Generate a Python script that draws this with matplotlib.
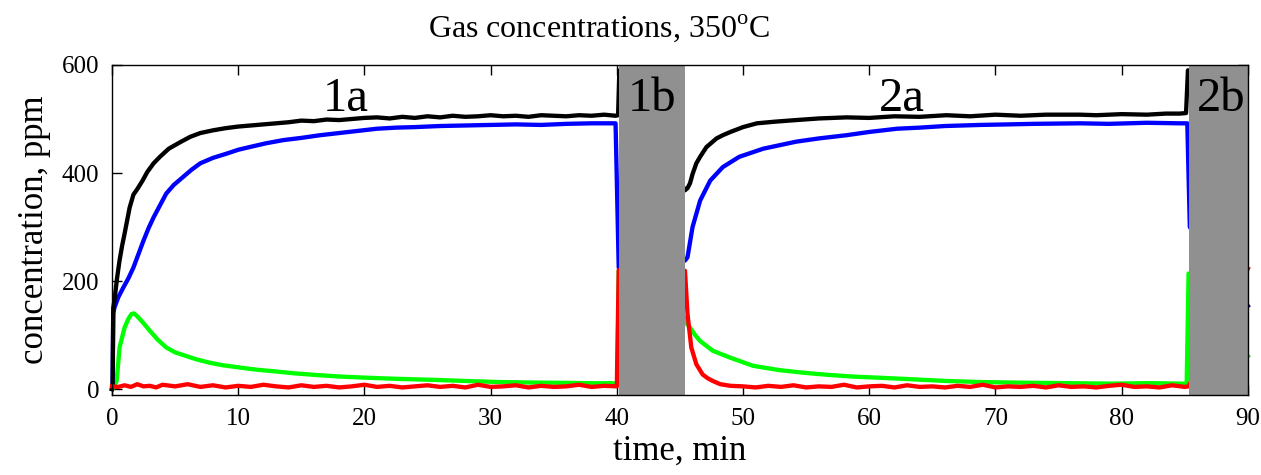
import matplotlib
matplotlib.use("Agg")
import matplotlib.pyplot as plt
import numpy as np

plt.rcParams['font.family'] = ['Liberation Serif', 'DejaVu Serif']
plt.rcParams['mathtext.fontset'] = 'custom'
plt.rcParams['mathtext.rm'] = 'Liberation Serif'

# gas concentrations (ppm) vs time (min)
t_black = [0, 0.05, 0.1, 0.2, 0.4, 0.6, 0.8, 1.0, 1.2, 1.4, 1.7, 2.0, 2.4, 2.8, 3.3, 3.8,
           4.5, 5.4, 6.2, 7.0, 8.0, 9.0, 10, 11, 12, 13, 14, 15, 16, 17, 18, 19, 20, 21,
           22, 23, 24, 25, 26, 27, 28, 29, 30, 31, 32, 33, 34, 35, 36, 37, 38, 39, 39.9,
           40.1, 40.2,
           45.4, 45.6, 45.8, 46.0, 46.3, 46.6, 47.1, 47.6, 47.9, 48.4, 49.0, 50.0, 51.1,
           52.5, 54.2, 56, 58.2, 60, 62, 64, 66.1, 68, 70, 72, 74, 76.7, 78, 80, 82, 83.5,
           84.6, 85.1, 85.25, 85.5]
c_black = [0, 5, 150, 165, 205, 238, 265, 288, 312, 336, 360, 370, 385, 402, 418, 430,
           445, 457, 467, 474, 479, 483, 486, 488, 490, 492, 494, 497, 496, 499, 498, 500,
           502, 503, 501, 504, 502, 505, 503, 506, 504, 505, 507, 505, 506, 504, 507, 506,
           505, 507, 506, 508, 506, 507, 590,
           368, 372, 381, 398, 418, 430, 448, 458, 464, 470, 476, 485, 492,
           495, 498, 501, 503, 502, 505, 504, 507, 505, 508, 506, 508, 508, 507, 509, 508, 510,
           510, 511, 590, 590]

t_blue = [0, 0.05, 0.1, 0.2, 0.5, 0.9, 1.3, 1.7, 2.1, 2.5, 2.9, 3.3, 3.8, 4.3, 4.9, 5.6,
          6.3, 7.0, 8.0, 9.1, 10, 10.9, 12.2, 13.6, 15, 16.5, 18, 19.5, 21, 22.5, 24, 26,
          28, 30, 32, 34, 36, 38, 39.9, 40.15,
          45.4, 45.6, 46.0, 46.6, 47.4, 48.4, 49.7, 51.6, 54.2, 56, 58.2, 60, 62.2, 64,
          66, 68.8, 71, 73, 76.7, 79, 82, 84.6, 85.2, 85.4, 90]
c_blue = [0, 5, 140, 151, 170, 188, 205, 225, 250, 275, 298, 318, 340, 362, 378, 392,
          406, 418, 428, 436, 443, 448, 455, 461, 465, 470, 474, 478, 482, 484, 485, 487,
          488, 489, 490, 489, 491, 492, 492, 225,
          238, 244, 300, 349, 386, 411, 430, 445, 458, 464, 470, 476, 482, 484,
          487, 489, 490, 491, 492, 491, 493, 492, 492, 300, 154]

t_green = [0, 0.1, 0.37, 0.6, 1.0, 1.3, 1.55, 1.75, 1.95, 2.5, 3.0, 3.6, 4.3, 5.0, 5.9,
           6.7, 7.7, 8.8, 10.1, 11.4, 12.8, 14.5, 16.2, 18.2, 20.2, 22.5, 25.5, 28, 30.7,
           33.5, 36, 38.7, 39.5, 40.05, 40.15,
           45.4, 45.5, 45.8, 46.2, 46.6, 47.6, 49.0, 50.8, 52.9, 54.9, 56.9, 58.8, 60.8,
           63.5, 66.1, 68.8, 71.4, 75.4, 79.3, 82.2, 84.9, 85.15, 85.3, 90]
c_green = [0, 2, 15, 77, 114, 130, 139, 140, 136, 122, 108, 92, 77, 68, 61,
           55, 49, 44, 40, 36, 33, 29, 26, 23, 21, 19, 17, 15, 13,
           12, 11.5, 10.6, 11, 10, 219,
           132, 122, 114, 100, 89, 71, 58, 43, 35, 30, 26, 23, 21,
           18, 15, 13, 12, 11, 10, 11, 10, 10, 214, 61]

t_red = [0, 0.5, 1, 1.5, 2, 2.5, 3, 3.5, 4, 5, 6, 7, 8, 9, 10, 11, 12, 13, 14, 15, 16,
         17, 18, 19, 20, 21, 22, 23, 24, 25, 26, 27, 28, 29, 30, 31, 32, 33, 34, 35, 36,
         37, 38, 39, 40, 40.15,
         45.4, 45.6, 45.9, 46.3, 46.8, 47.2, 47.6, 48.2, 49.0, 50, 51, 52, 53, 54, 55,
         56, 57, 58, 59, 60, 61, 62, 63, 64, 65, 66, 67, 68, 69, 70, 71, 72, 73, 74, 75,
         76, 77, 78, 79, 80, 81, 82, 83, 84, 85, 85.3, 90]
c_red = [5, 4, 7, 4, 9, 5, 6, 3, 8, 5, 9, 4, 7, 3, 6, 4, 8, 5, 3, 7, 4, 6, 3, 5, 8, 4,
         6, 3, 5, 7, 4, 6, 3, 8, 4, 5, 7, 3, 6, 4, 5, 8, 4, 6, 5, 220,
         219, 139, 77, 46, 27, 20, 15, 9, 6, 5, 3, 6, 4, 7, 3, 5, 4, 8, 3, 5, 6, 3,
         7, 4, 5, 3, 6, 4, 8, 3, 5, 4, 6, 3, 7, 4, 5, 3, 6, 8, 4, 5, 3, 7, 4, 5, 223]

# purge periods shaded grey
shade_spans = [(40.2, 45.4), (85.3, 90)]
phase_labels = ['1a', '1b', '2a', '2b']
phase_x = [18.5, 42.8, 62.6, 87.9]

fig = plt.figure(figsize=(12.61, 4.75), dpi=100)
ax = fig.add_axes([0.0888, 0.1684, 0.9008, 0.6948])

ax.plot(t_green, c_green, color=(0, 1, 0), lw=3.1, zorder=2, clip_on=False)
ax.plot(t_blue, c_blue, color=(0, 0, 1), lw=3.1, zorder=2, clip_on=False)
ax.plot(t_black, c_black, color='black', lw=3.1, zorder=2, clip_on=False)
ax.plot(t_red, c_red, color=(1, 0, 0), lw=3.1, zorder=2, clip_on=False)

for a, b in shade_spans:
    ax.axvspan(a, b, color='#909090', lw=0, zorder=3)

for lab, x in zip(phase_labels, phase_x):
    ax.text(x, 514, lab, fontsize=35, ha='center', va='baseline', zorder=4)

ax.set_xlim(0, 90)
ax.set_ylim(-11, 600)
ax.set_xticks(range(0, 91, 10))
ax.set_yticks([0, 200, 400, 600])
ax.tick_params(direction='in', top=True, right=True, length=7, width=1,
               labelsize=18, pad=9)
for s in ax.spines.values():
    s.set_linewidth(1)
    s.set_zorder(5)

ax.set_xlabel('time, min', fontsize=25, labelpad=4)
ax.set_ylabel('concentration, ppm', fontsize=25, labelpad=8)
fig.text(0.475, 0.922, r'Gas concentrations, 350$^{\mathrm{o}}$C', fontsize=23,
         ha='center', va='baseline')

fig.savefig('out.png', dpi=100)
